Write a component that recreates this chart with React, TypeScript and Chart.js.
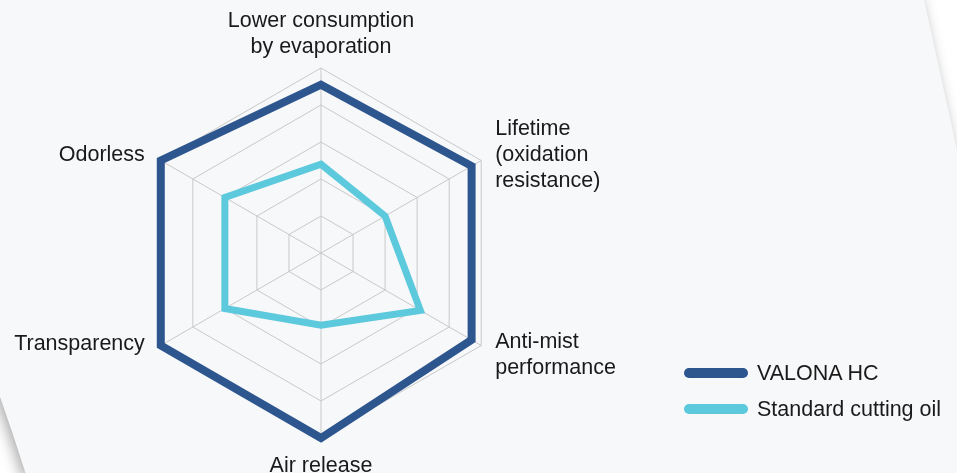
import React, { useEffect, useRef } from "react";
import { Chart, registerables } from "chart.js";

Chart.register(...registerables);

const categories: string[][] = [
  ["Lower consumption", "by evaporation"],
  ["Lifetime", "(oxidation", "resistance)"],
  ["Anti-mist", "performance"],
  ["Air release"],
  ["Transparency"],
  ["Odorless"],
];

const seriesNames = ["VALONA HC", "Standard cutting oil"];
const valonaValues = [4.55, 4.7, 4.7, 5, 5, 5];
const standardValues = [2.4, 2.0, 3.1, 1.95, 3.0, 3.0];
const seriesColors = ["#2d558e", "#5cc9dc"];

const FONT_FAMILY = '"Liberation Sans", Arial, Helvetica, sans-serif';
const FONT_SIZE = 21.5;
const LINE_H = 26;
const TEXT_COLOR = "#1a1a1a";
// small vertical nudges (px) for individual point labels, style only
const LABEL_NUDGE_Y: Record<number, number> = { 4: -11 };

const backgroundPlugin = {
  id: "pageBackground",
  beforeDraw(chart: any) {
    const { ctx, width, height } = chart;
    ctx.save();
    ctx.fillStyle = "#ffffff";
    ctx.fillRect(0, 0, width, height);
    ctx.beginPath();
    ctx.moveTo(923, -5);
    ctx.lineTo(957, 150);
    ctx.lineTo(width + 5, height + 5);
    ctx.lineTo(27, height + 5);
    ctx.quadraticCurveTo(12, 430, -6, 380);
    ctx.lineTo(-6, -5);
    ctx.closePath();
    ctx.shadowColor = "rgba(0,0,0,0.34)";
    ctx.shadowBlur = 14;
    ctx.shadowOffsetX = -4;
    ctx.fillStyle = "#f7f8fa";
    ctx.fill();
    ctx.restore();
  },
};

const pointLabelPlugin = {
  id: "customPointLabels",
  afterDraw(chart: any) {
    const scale = chart.scales.r;
    const { ctx } = chart;
    const labels: string[][] = chart.data.labels;
    const capHalf = FONT_SIZE * 0.716 / 2;
    ctx.save();
    ctx.font = `${FONT_SIZE}px ${FONT_FAMILY}`;
    ctx.fillStyle = TEXT_COLOR;
    ctx.textBaseline = "alphabetic";
    labels.forEach((lines, i) => {
      const pos = scale.getPointPosition(i, scale.drawingArea + 15);
      const n = lines.length;
      const dx = pos.x - scale.xCenter;
      const dy = pos.y - scale.yCenter;
      const nudge = LABEL_NUDGE_Y[i] || 0;
      lines.forEach((line, k) => {
        let x = pos.x;
        let y: number;
        if (Math.abs(dx) < 1) {
          ctx.textAlign = "center";
          if (dy < 0) {
            y = pos.y - (n - 1 - k) * LINE_H;
          } else {
            y = pos.y + 19 + k * LINE_H;
          }
        } else {
          ctx.textAlign = dx > 0 ? "left" : "right";
          x = dx > 0 ? pos.x + 1 : pos.x - 3;
          y = pos.y + (k - (n - 1) / 2) * LINE_H + capHalf;
        }
        ctx.fillText(line, x, y + nudge);
      });
    });
    ctx.restore();
  },
};

export default function App() {
  const canvasRef = useRef<HTMLCanvasElement | null>(null);

  useEffect(() => {
    if (!canvasRef.current) return;
    const chart = new Chart(canvasRef.current, {
      type: "radar",
      data: {
        labels: categories as any,
        datasets: [
          {
            label: seriesNames[0],
            data: valonaValues,
            borderColor: seriesColors[0],
            backgroundColor: "transparent",
            borderWidth: 8,
            fill: false,
            pointRadius: 0,
            pointHoverRadius: 0,
            borderJoinStyle: "miter",
          },
          {
            label: seriesNames[1],
            data: standardValues,
            borderColor: seriesColors[1],
            backgroundColor: "transparent",
            borderWidth: 7,
            fill: false,
            pointRadius: 0,
            pointHoverRadius: 0,
            borderJoinStyle: "miter",
          },
        ],
      },
      options: {
        animation: false,
        responsive: true,
        maintainAspectRatio: false,
        layout: { padding: { left: 136, right: 451, top: 68, bottom: 35 } },
        plugins: {
          legend: { display: false },
          tooltip: { enabled: false },
        },
        scales: {
          r: {
            min: 0,
            max: 5,
            ticks: { display: false, stepSize: 1 },
            grid: { color: "#c9c9c9", lineWidth: 1 },
            angleLines: { color: "#c9c9c9", lineWidth: 1 },
            pointLabels: { display: false },
          },
        },
      },
      plugins: [backgroundPlugin, pointLabelPlugin],
    });
    return () => chart.destroy();
  }, []);

  const legendTops = [360, 396];

  return (
    <div
      style={{
        position: "fixed",
        left: 0,
        top: 0,
        width: 957,
        height: 473,
        overflow: "hidden",
        fontFamily: FONT_FAMILY,
      }}
    >
      <canvas ref={canvasRef} style={{ display: "block", width: "957px", height: "473px" }} />
      {seriesNames.map((name, i) => (
        <div
          key={name}
          style={{
            position: "absolute",
            left: 684,
            top: legendTops[i],
            height: 26,
            display: "flex",
            alignItems: "center",
            gap: 9,
            whiteSpace: "nowrap",
          }}
        >
          <span
            style={{
              display: "inline-block",
              width: 64,
              height: 10,
              borderRadius: 5,
              background: seriesColors[i],
            }}
          />
          <span style={{ fontSize: FONT_SIZE, color: TEXT_COLOR, lineHeight: "26px" }}>{name}</span>
        </div>
      ))}
    </div>
  );
}
